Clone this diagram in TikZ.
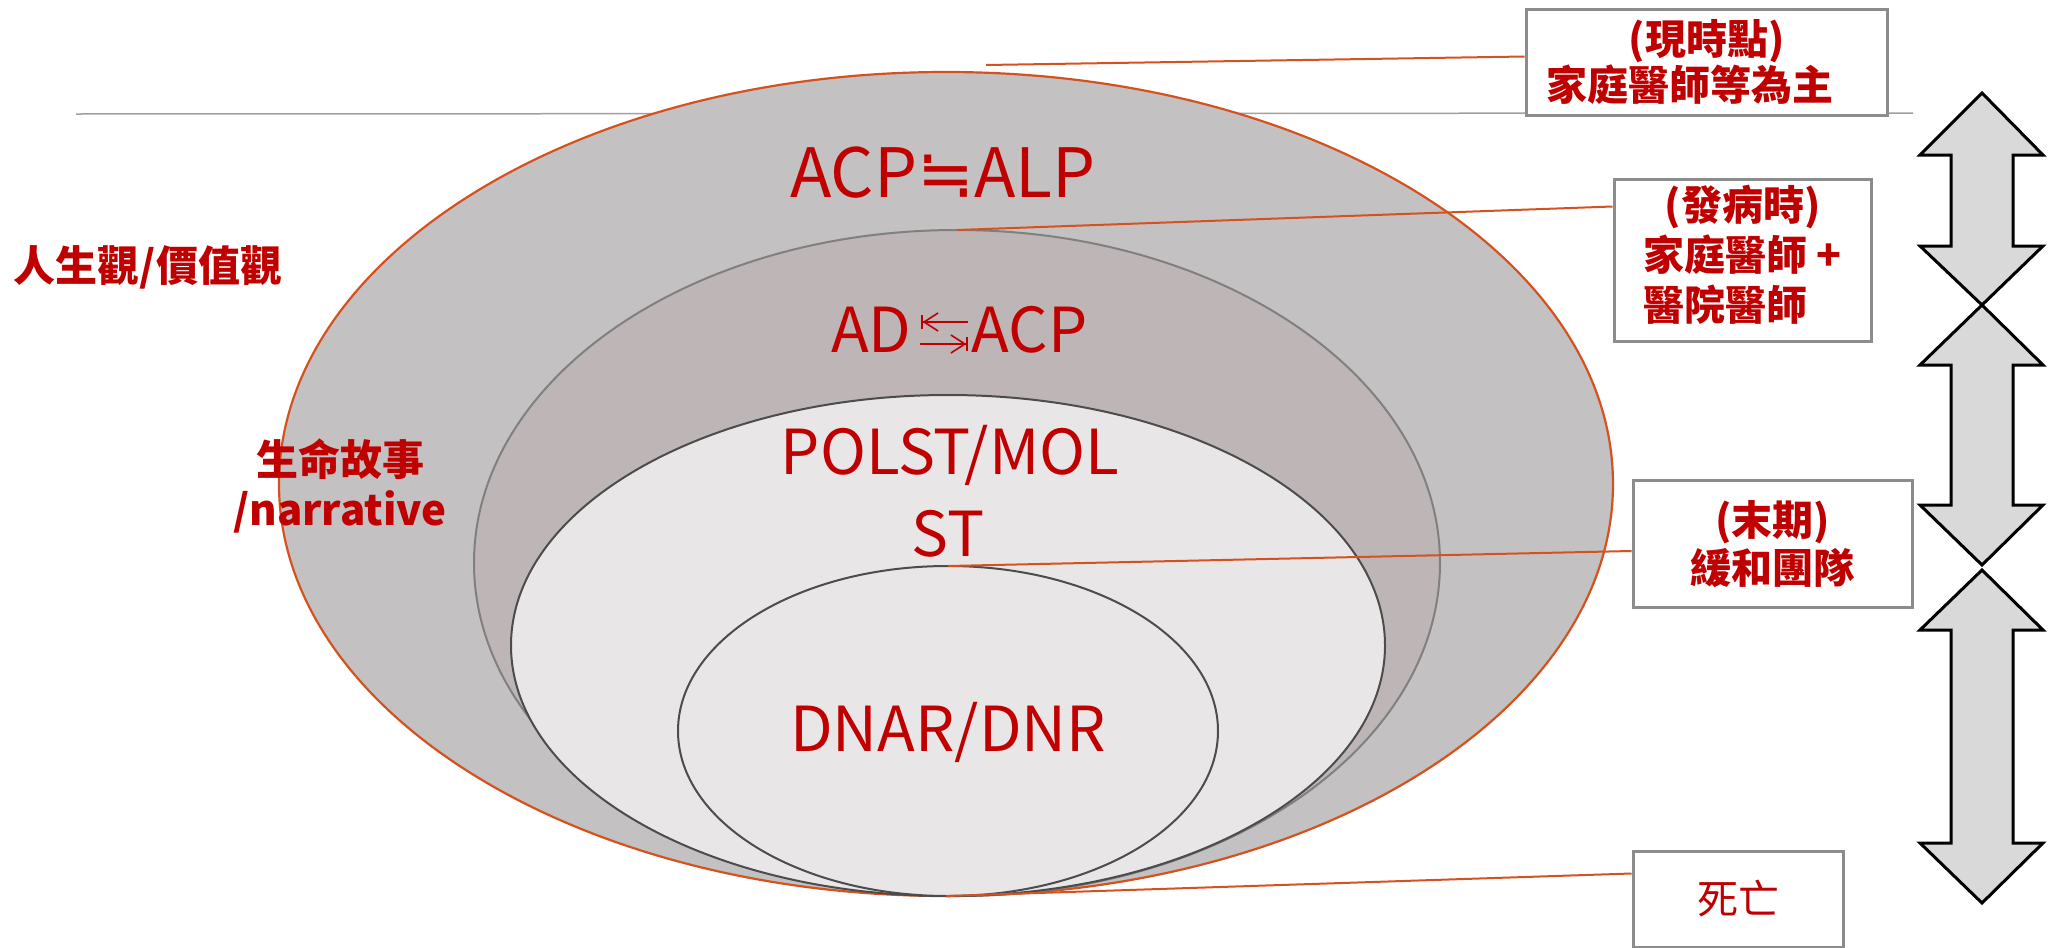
\documentclass[tikz,border=0pt]{standalone}
\usepackage{fontspec}
\setmainfont{Noto Sans CJK TC}
\newfontfamily\symfont{DejaVu Sans}
\usetikzlibrary{shapes.geometric,arrows.meta,calc}
\definecolor{txtred}{HTML}{C00000}
\definecolor{edgered}{HTML}{D5521F}
\definecolor{outerfill}{HTML}{C3C1C2}
\definecolor{midfill}{HTML}{BDB5B6}
\definecolor{innerfill}{HTML}{E8E6E7}
\definecolor{boxgray}{HTML}{8C8C8C}
\definecolor{arrowfill}{HTML}{D9D9D9}
\definecolor{rulegray}{HTML}{A0A0A0}
\begin{document}
\begin{tikzpicture}[x=0.5pt,y=-0.5pt,
  oval/.style={ellipse, inner sep=0pt, outer sep=0pt},
  labelbox/.style={draw=boxgray, line width=1.5pt, fill=white, inner sep=0pt, text=txtred, font=\fontsize{20.5}{24}\selectfont\bfseries},
  lead/.style={draw=edgered, line width=1pt},
  big/.style={text=txtred, font=\fontsize{31}{36}\selectfont, inner sep=0pt},
  side/.style={text=txtred, font=\fontsize{21}{25}\selectfont\bfseries, inner sep=0pt, align=center},
  dblarrow/.style={draw=black, line width=1.5pt, fill=arrowfill, line join=miter},
  smallarrow/.style={draw=txtred, line width=0.8pt, -{Straight Barb[length=7pt,width=9pt]Bar[width=7pt]}},
]
\useasboundingbox (0,0) rectangle (2053,948);
\fill[white] (0,0) rectangle (2053,948);

% horizontal rule
\coordinate (hl) at (76,114);
\coordinate (hr) at (1913,113);
\draw[rulegray, line width=0.75pt] (hl) -- (hr);

% nested ellipses
\node[oval, draw=edgered, line width=1.1pt, fill=outerfill, minimum width=667pt, minimum height=412pt] (e1) at (946,484) {};
\node[oval, draw=gray, line width=1pt, fill=midfill, minimum width=483pt, minimum height=333pt] (e2) at (957,563) {};
\node[oval, draw=black!70, line width=1pt, fill=innerfill, minimum width=437pt, minimum height=250.5pt] (e3) at (948,645.5) {};
\node[oval, draw=black!70, line width=1pt, fill=innerfill, minimum width=270pt, minimum height=165pt] (e4) at (948,731) {};

% texts inside ellipses
\node[big, font=\fontsize{34}{40}\selectfont, anchor=base] (acpalp) at (943,197) {ACP{\symfont ≒}ALP};
\node[big, anchor=base east] (ad) at (912,352) {AD};
\node[big, anchor=base west] (acp) at (971,352) {ACP};
\coordinate (a1s) at (968,322);
\coordinate (a1e) at (921,322);
\coordinate (a2s) at (920,344);
\coordinate (a2e) at (968,344);
\draw[smallarrow] (a1s) -- (a1e);
\draw[smallarrow] (a2s) -- (a2e);
\node[big, anchor=base] (polst) at (950,474) {POLST/MOL};
\node[big, anchor=base] (st) at (948,556) {ST};
\node[big, anchor=base] (dnar) at (948,751) {DNAR/DNR};

% left texts
\node[side] (values) at (148,267) {人生觀/價值觀};
\node[side] (story) at (340,486) {生命故事\\/narrative};

% boxes
\node[labelbox, minimum width=180.5pt, minimum height=53pt, align=center, font=\fontsize{20.5}{21.5}\selectfont\bfseries] (b1) at (1706.5,62) {(現時點)\\家庭醫師等為主\hspace*{17pt}};
\node[labelbox, minimum width=128.5pt, minimum height=81pt] (b2) at (1742.5,260) {\begin{tabular}{@{}l@{}}\multicolumn{1}{@{}c@{}}{(發病時)}\\ 家庭醫師 +\\ 醫院醫師\end{tabular}};
\node[labelbox, minimum width=139.5pt, minimum height=63.5pt, align=center] (b3) at (1772.5,544) {(末期)\\緩和團隊};
\node[labelbox, minimum width=105pt, minimum height=48pt, font=\fontsize{20.5}{24}\selectfont] (b4) at (1738,899) {死亡};

% leader lines
\coordinate (c1) at (986,65);
\draw[lead] (c1) -- ($(b1.north west)+(0,49)$);
\draw[lead] (e2.north) -- ($(b2.north west)+(0,29)$);
\draw[lead] (e4.north) -- ($(b3.north west)+(0,72)$);
\draw[lead] (e1.south) -- ($(b4.north west)+(0,24)$);

% double arrows
\foreach \t/\a/\b/\e in {93/155/246/305, 305/365/505/565, 570/630/843/903} {
  \draw[dblarrow] (1982,\t) -- (2043,\a) -- (2013,\a) -- (2013,\b) -- (2043,\b) -- (1982,\e) -- (1920,\b) -- (1951,\b) -- (1951,\a) -- (1920,\a) -- cycle;
}
\end{tikzpicture}
\end{document}
